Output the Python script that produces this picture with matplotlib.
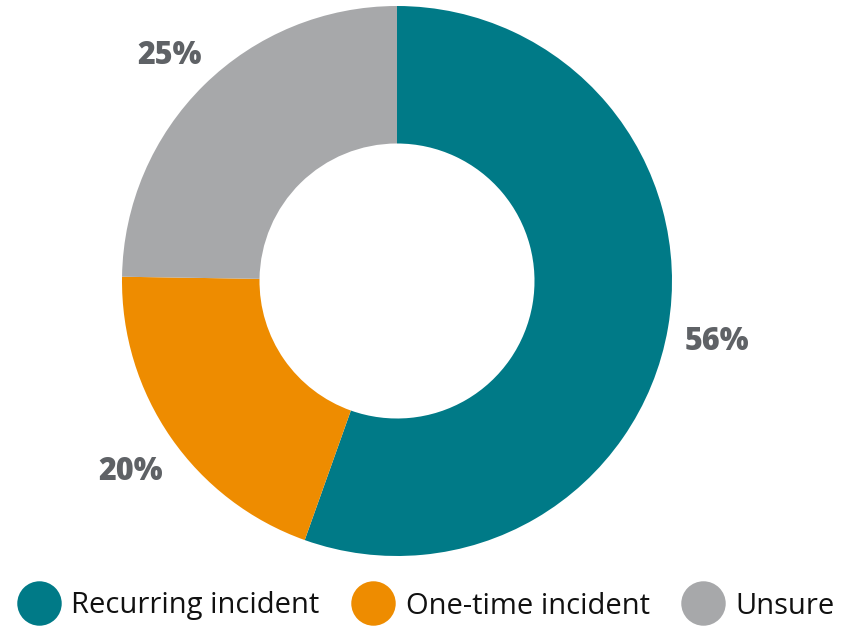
import matplotlib
matplotlib.use("Agg")
import matplotlib.pyplot as plt
from matplotlib.lines import Line2D
import matplotlib.transforms as mtransforms

categories = ["Recurring incident", "One-time incident", "Unsure"]
values = [56, 20, 25]
labels = ["56%", "20%", "25%"]
colors = ["#007a87", "#ee8c00", "#a7a8aa"]

W, H = 855, 627
fig = plt.figure(figsize=(W / 100, H / 100), dpi=100)
ax = fig.add_axes([0, 0, 1, 1])

cx, cy, R = 397, H - 281, 275
wedges, texts = ax.pie(values, colors=colors, startangle=90, counterclock=False,
                       radius=R, center=(cx, cy), labels=labels, labeldistance=1.18,
                       wedgeprops=dict(width=R * 0.5, edgecolor="none"), frame=True)
offset = mtransforms.ScaledTranslation(0, -6 / 100, fig.dpi_scale_trans)
for t in texts:
    t.set_fontproperties(dict(family="Open Sans", weight=800, size=22))
    t.set_color("#5f6266")
    t.set_ha("center")
    t.set_va("center")
    t.set_transform(t.get_transform() + offset)
ax.set_xlim(0, W)
ax.set_ylim(0, H)
ax.set_aspect("equal")
ax.axis("off")

handles = [Line2D([], [], marker="o", linestyle="none", markersize=32,
                  markerfacecolor=c, markeredgecolor="none") for c in colors]
fig.legend(handles, categories, loc="center", bbox_to_anchor=(0.5, 1 - 606 / H),
           ncol=3, frameon=False, prop=dict(family="Open Sans", size=21),
           handletextpad=0.45, columnspacing=1.2, handlelength=1.3,
           labelcolor="#111111")
fig.savefig("out.png", dpi=100)
